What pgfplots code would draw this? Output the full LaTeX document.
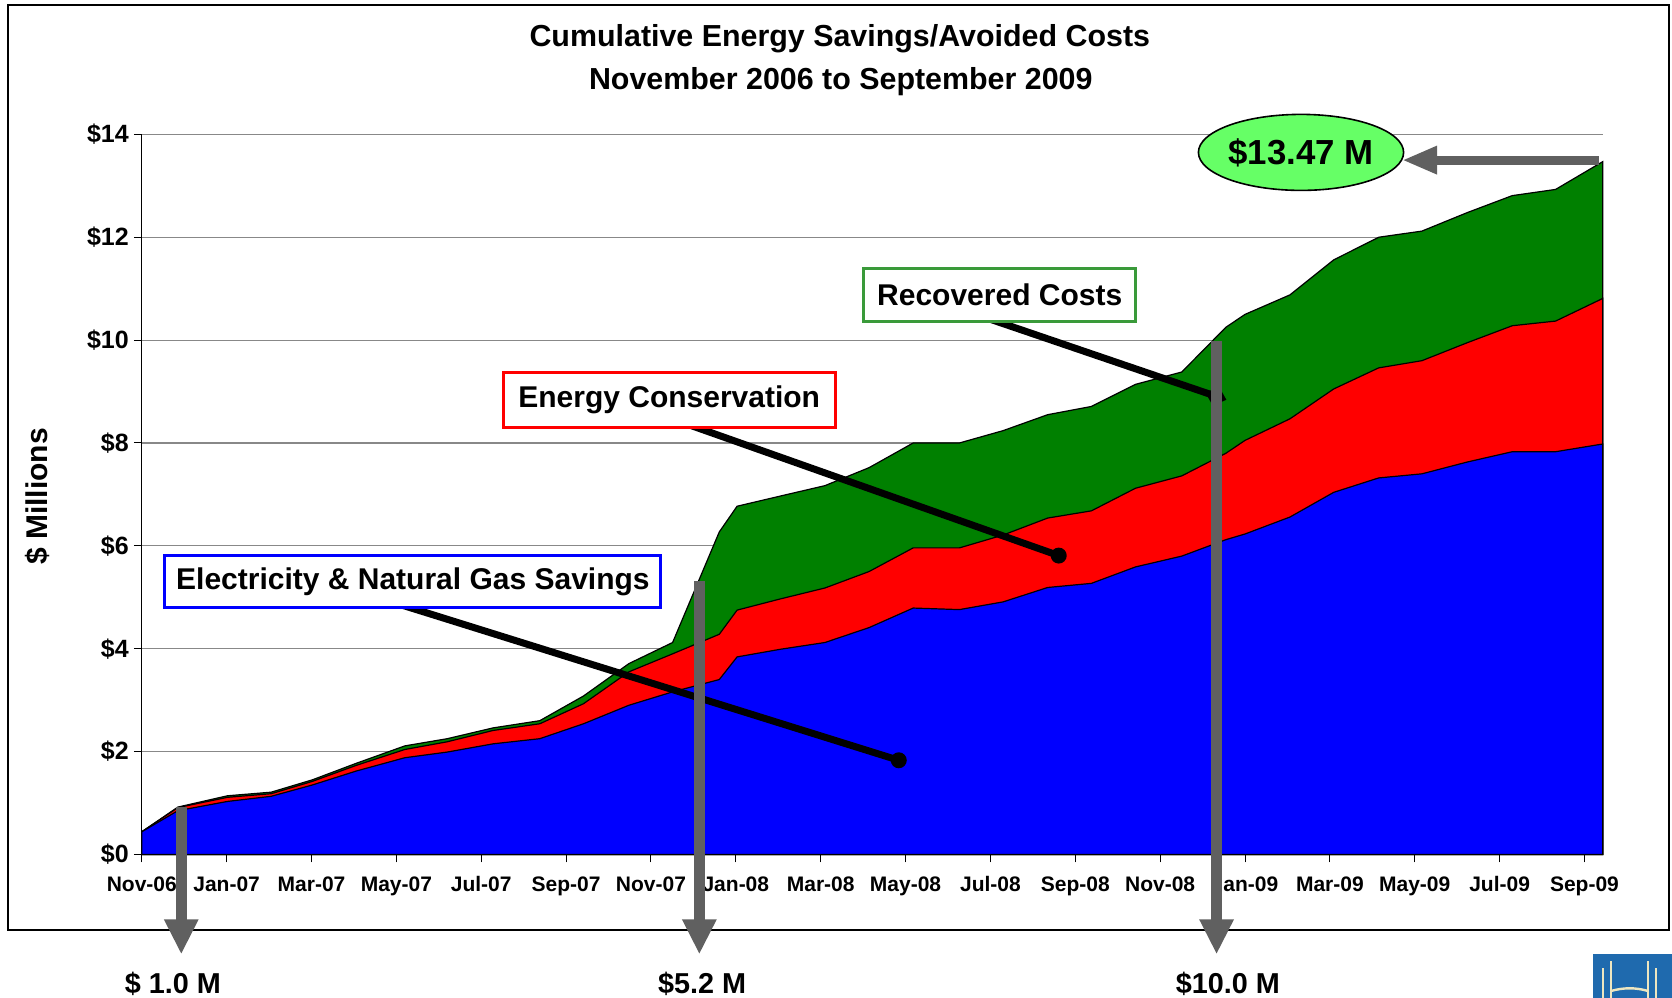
\documentclass[border=0pt]{standalone}
\usepackage{fontspec}
\setmainfont{Liberation Sans}
\usepackage{pgfplots}
\usepackage{pgfplotstable}
\pgfplotsset{compat=1.18}
\usetikzlibrary{arrows.meta,shapes.geometric}

\definecolor{eblue}{HTML}{0000FF}
\definecolor{ered}{HTML}{FF0000}
\definecolor{egreen}{HTML}{008000}
\definecolor{ellgreen}{HTML}{66FF66}
\definecolor{boxgreen}{HTML}{3A9A3A}
\definecolor{arrowgray}{HTML}{606060}
\definecolor{gridgray}{HTML}{888888}
\definecolor{logoblue}{HTML}{1F6AAE}
\definecolor{logocream}{HTML}{EEE6C0}

% m = months since Nov-06; b = electricity & gas; r = b + conservation; g = r + recovered (cumulative tops)
\pgfplotstableread{
m     b     r      g
0.00  0.44  0.44   0.44
0.85  0.85  0.91   0.92
2.02  1.03  1.11   1.14
3.05  1.13  1.18   1.21
4.02  1.35  1.42   1.45
5.05  1.62  1.73   1.77
6.20  1.88  2.04   2.11
7.20  1.99  2.19   2.25
8.28  2.15  2.41   2.46
9.38  2.25  2.54   2.60
10.41 2.54  2.93   3.08
11.48 2.90  3.55   3.71
12.51 3.16  3.90   4.12
13.61 3.40  4.28   6.27
14.03 3.84  4.75   6.77
15.06 3.99  4.97   6.97
16.10 4.12  5.18   7.17
17.14 4.41  5.50   7.52
18.18 4.79  5.96   8.00
19.27 4.76  5.96   8.00
20.30 4.91  6.21   8.24
21.35 5.19  6.54   8.55
22.38 5.27  6.68   8.71
23.42 5.59  7.12   9.14
24.51 5.80  7.36   9.38
25.55 6.12  7.80   10.25
26.00 6.23  8.05   10.50
27.06 6.56  8.47   10.88
28.09 7.04  9.05   11.56
29.15 7.32  9.46   12.00
30.17 7.40  9.60   12.12
31.24 7.63  9.95   12.48
32.30 7.83  10.28  12.81
33.32 7.83  10.37  12.93
34.43 7.98  10.81  13.47
}\data

\begin{document}
\begin{tikzpicture}
\path[use as bounding box] (-70.9pt,-71.3pt) rectangle (765.1pt,427.2pt);
\fill[white] (-70.9pt,-71.3pt) rectangle (765.1pt,427.2pt);
\draw[line width=1pt] (-66.65pt,-37.8pt) rectangle (763.6pt,424.7pt);

\node[anchor=base, font=\fontsize{15.2}{18}\selectfont\bfseries] at (349pt,403.7pt) {Cumulative Energy Savings/Avoided Costs};
\node[anchor=base, font=\fontsize{15.2}{18}\selectfont\bfseries] at (349.5pt,382.3pt) {November 2006 to September 2009};

\begin{axis}[
  at={(0pt,0pt)}, anchor=south west,
  scale only axis, width=730.45pt, height=360pt,
  xmin=0, xmax=34.43, ymin=0, ymax=14,
  axis x line*=bottom, axis y line*=left,
  xtick={0,2,...,34},
  xticklabels={Nov-06,Jan-07,Mar-07,May-07,Jul-07,Sep-07,Nov-07,Jan-08,Mar-08,May-08,Jul-08,Sep-08,Nov-08,Jan-09,Mar-09,May-09,Jul-09,Sep-09},
  ytick={0,2,...,14},
  yticklabels={\$0,\$2,\$4,\$6,\$8,\$10,\$12,\$14},
  tick align=outside, major tick length=4pt,
  tick style={black, line width=0.5pt},
  ymajorgrids, grid style={gridgray, line width=0.6pt},
  axis line style={black, line width=0.7pt},
  xticklabel style={font=\fontsize{10.5}{12}\selectfont\bfseries, yshift=-3.5pt},
  yticklabel style={font=\fontsize{12.5}{14}\selectfont\bfseries, xshift=1pt},
  ylabel={\$ Millions},
  ylabel style={at={(axis description cs:-0.0717,0.497)}, anchor=center, font=\fontsize{15}{18}\selectfont\bfseries},
  clip=false,
]
\addplot[fill=egreen, draw=black, line width=0.6pt] table[x=m,y=g] {\data} \closedcycle;
\addplot[fill=ered, draw=black, line width=0.6pt] table[x=m,y=r] {\data} \closedcycle;
\addplot[fill=eblue, draw=black, line width=0.6pt] table[x=m,y=b] {\data} \closedcycle;

% callout lines
\draw[line width=3.5pt, black] (axis cs:6.16,4.84) -- (axis cs:17.84,1.83);
\fill[black] (axis cs:17.84,1.83) circle[radius=4pt];
\draw[line width=3.5pt, black] (axis cs:12.94,8.34) -- (axis cs:21.61,5.81);
\fill[black] (axis cs:21.61,5.81) circle[radius=4pt];
\draw[line width=3.5pt, black, -{Diamond[length=11pt,width=10pt]}] (axis cs:19.98,10.41) -- (axis cs:25.56,8.84);

% callout boxes
\node[draw=eblue, line width=1.5pt, fill=white, minimum width=248pt, minimum height=26pt, inner sep=0pt,
      font=\fontsize{15}{18}\selectfont\bfseries] at (axis cs:6.39,5.30) {Electricity \& Natural Gas Savings};
\node[draw=ered, line width=1.5pt, fill=white, minimum width=165.8pt, minimum height=27.5pt, inner sep=0pt,
      font=\fontsize{15}{18}\selectfont\bfseries] at (axis cs:12.43,8.83) {Energy Conservation};
\node[draw=boxgreen, line width=1.5pt, fill=white, minimum width=136pt, minimum height=26.2pt, inner sep=0pt,
      font=\fontsize{15}{18}\selectfont\bfseries] at (axis cs:20.22,10.88) {Recovered Costs};

% total ellipse and arrow
\node[ellipse, draw=black, line width=0.8pt, fill=ellgreen, minimum width=99pt, minimum height=38pt, inner sep=0pt,
      font=\fontsize{17.4}{20}\selectfont\bfseries] at (axis cs:27.32,13.65) {\$13.47 M};
\draw[line width=4.5pt, arrowgray, -{Triangle[length=17.5pt,width=13pt]}] (axis cs:34.35,13.5) -- (axis cs:29.7,13.5);

% milestone arrows
\draw[line width=5.5pt, arrowgray, -{Triangle[length=17.5pt,width=16pt]}] (axis cs:0.93,0.92) -- (axis cs:0.93,-1.944);
\draw[line width=5.5pt, arrowgray, -{Triangle[length=17.5pt,width=16pt]}] (axis cs:13.14,5.31) -- (axis cs:13.14,-1.944);
\draw[line width=5.5pt, arrowgray, -{Triangle[length=17.5pt,width=16pt]}] (axis cs:25.33,9.98) -- (axis cs:25.33,-1.944);
\end{axis}

\node[anchor=base, font=\fontsize{14.4}{17}\selectfont\bfseries] at (15.5pt,-69.4pt) {\$ 1.0 M};
\node[anchor=base, font=\fontsize{14.4}{17}\selectfont\bfseries] at (280.2pt,-69.4pt) {\$5.2 M};
\node[anchor=base, font=\fontsize{14.4}{17}\selectfont\bfseries] at (543pt,-69.4pt) {\$10.0 M};

% logo
\fill[logoblue] (725.6pt,-49.8pt) rectangle (770pt,-75pt);
\draw[logocream, line width=1.2pt] (730.6pt,-56.8pt) -- (730.6pt,-75pt);
\draw[logocream, line width=1.2pt] (734.6pt,-53.3pt) -- (734.6pt,-75pt);
\draw[logocream, line width=1.2pt] (753.1pt,-53.3pt) -- (753.1pt,-75pt);
\draw[logocream, line width=1.2pt] (757.1pt,-56.8pt) -- (757.1pt,-75pt);
\draw[logocream, line width=1.2pt] (734.6pt,-68.3pt) .. controls (741pt,-66.5pt) and (747pt,-66.5pt) .. (753.1pt,-68.3pt);
\end{tikzpicture}
\end{document}
